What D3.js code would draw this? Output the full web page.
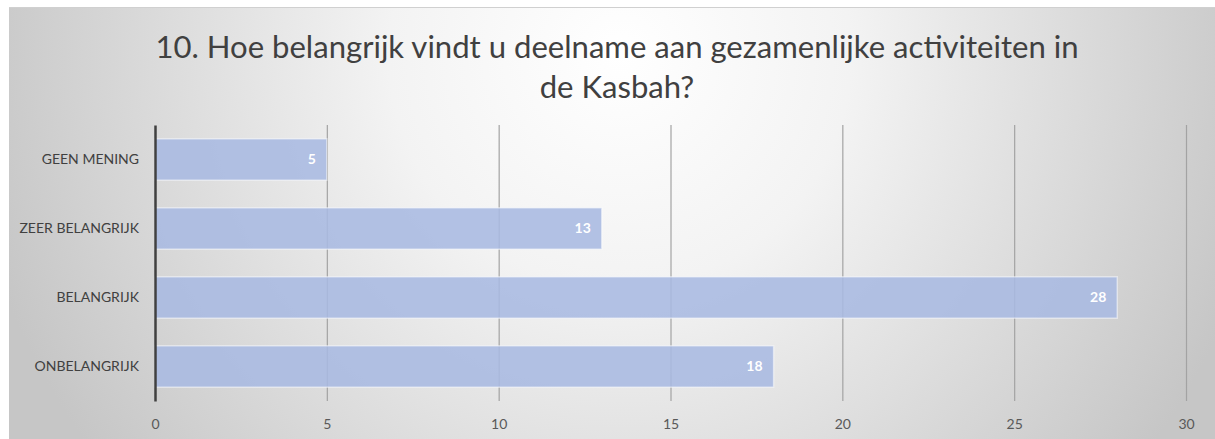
<!DOCTYPE html>
<html>
<head>
<meta charset="utf-8">
<script src="https://cdn.jsdelivr.net/npm/d3@7"></script>
<style>
  html, body { margin: 0; padding: 0; background: #fff; }
  svg { display: block; }
</style>
</head>
<body>
<svg id="chart" width="1215" height="439"></svg>
<script>
const categories = ["GEEN MENING", "ZEER BELANGRIJK", "BELANGRIJK", "ONBELANGRIJK"];
const values = [5, 13, 28, 18];
const tick_values = [0, 5, 10, 15, 20, 25, 30];
const title_lines = ["10. Hoe belangrijk vindt u deelname aan gezamenlijke activiteiten in", "de Kasbah?"];

const width = 1215;
const height = 439;
const margin = { top: 125, right: 29, bottom: 38, left: 155 };
const fontFamily = "Lato, 'Open Sans', sans-serif";

const svg = d3.select("#chart");

// background gradient
const defs = svg.append("defs");
const grad = defs.append("radialGradient")
    .attr("id", "bg")
    .attr("gradientUnits", "userSpaceOnUse")
    .attr("cx", 620).attr("cy", 55).attr("r", 660);
grad.append("stop").attr("offset", 0).attr("stop-color", "#ffffff");
grad.append("stop").attr("offset", 0.35).attr("stop-color", "#f3f3f3");
grad.append("stop").attr("offset", 1).attr("stop-color", "#c6c6c6");

svg.append("rect")
    .attr("x", 9).attr("y", 7)
    .attr("width", width - 9).attr("height", height - 7)
    .attr("fill", "url(#bg)");
svg.append("line")
    .attr("x1", 9).attr("x2", width).attr("y1", 7.5).attr("y2", 7.5)
    .attr("stroke", "#d0d0d0");

// title
const title = svg.append("text")
    .attr("text-anchor", "middle")
    .style("font-family", fontFamily)
    .style("font-size", "28px")
    .style("fill", "#404040");
title.selectAll("tspan")
    .data(title_lines)
    .enter()
    .append("tspan")
    .attr("x", 617)
    .attr("y", (d, i) => 58 + i * 40)
    .text(d => d);
// fit the first line to the width it takes in the picture
const firstLen = title.select("tspan").node().getComputedTextLength();
title.style("font-size", (28 * 923 / firstLen).toFixed(2) + "px");

const xScale = d3.scaleLinear().domain([0, 30]).range([margin.left, width - margin.right]);
const yScale = d3.scaleBand().domain(categories)
    .range([margin.top, height - margin.bottom])
    .paddingInner(0.4).paddingOuter(0.2);

// gridlines
const xAxis = svg.append("g")
    .attr("transform", `translate(0, ${height - margin.bottom})`)
    .call(d3.axisBottom(xScale).tickValues(tick_values).tickSize(-(height - margin.top - margin.bottom)).tickPadding(18));
xAxis.select(".domain").remove();
xAxis.selectAll(".tick line")
    .attr("stroke", "#a3a3a3")
    .attr("stroke-width", 1.2);
xAxis.selectAll(".tick text")
    .style("font-family", fontFamily)
    .style("font-size", "14px")
    .style("fill", "#595959");
xAxis.select(".tick line").remove();

// bars
svg.append("g")
    .selectAll("rect")
    .data(values)
    .enter()
    .append("rect")
    .attr("x", xScale(0))
    .attr("y", (d, i) => yScale(categories[i]))
    .attr("width", d => xScale(d) - xScale(0))
    .attr("height", yScale.bandwidth())
    .attr("fill", "#a9bae1")
    .attr("fill-opacity", 0.88)
    .attr("stroke", "#ffffff")
    .attr("stroke-opacity", 0.5)
    .attr("stroke-width", 1.5);

// value labels
svg.append("g")
    .selectAll("text")
    .data(values)
    .enter()
    .append("text")
    .attr("x", d => xScale(d) - 11)
    .attr("y", (d, i) => yScale(categories[i]) + yScale.bandwidth() / 2)
    .attr("dy", "0.35em")
    .attr("text-anchor", "end")
    .style("font-family", fontFamily)
    .style("font-size", "14px")
    .style("font-weight", "bold")
    .style("fill", "#ffffff")
    .text(d => d);

// category axis
const yAxis = svg.append("g")
    .attr("transform", `translate(${margin.left}, 0)`)
    .call(d3.axisLeft(yScale).tickSize(0).tickPadding(16));
yAxis.select(".domain")
    .attr("stroke", "#404040")
    .attr("stroke-width", 2.5);
yAxis.selectAll(".tick text")
    .style("font-family", fontFamily)
    .style("font-size", "14px")
    .style("fill", "#404040");
</script>
</body>
</html>
